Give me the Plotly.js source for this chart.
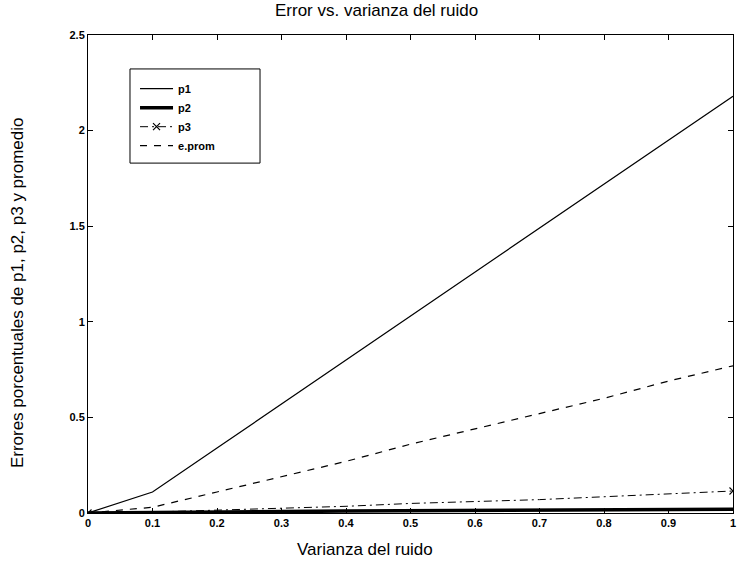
<!DOCTYPE html>
<html>
<head>
<meta charset="utf-8">
<script src="https://cdn.plot.ly/plotly-3.0.1.min.js"></script>
<style>html,body{margin:0;padding:0;background:#fff;}</style>
</head>
<body>
<div id="chart" style="width:737px;height:570px;"></div>
<script>
// Data
var varianza = [0, 0.1, 0.2, 0.3, 0.4, 0.5, 0.6, 0.7, 0.8, 0.9, 1.0];
var p1 = [0, 0.11, 0.34, 0.57, 0.80, 1.03, 1.26, 1.49, 1.72, 1.95, 2.18];
var p2 = [0, 0.004, 0.006, 0.008, 0.010, 0.012, 0.013, 0.015, 0.016, 0.018, 0.02];
var p3 = [0, 0.005, 0.015, 0.025, 0.035, 0.05, 0.06, 0.07, 0.085, 0.10, 0.115];
var eprom = [0, 0.03, 0.11, 0.19, 0.27, 0.36, 0.44, 0.52, 0.60, 0.69, 0.77];
var seriesNames = ['p1', 'p2', 'p3', 'e.prom'];
var xTicks = [0, 0.1, 0.2, 0.3, 0.4, 0.5, 0.6, 0.7, 0.8, 0.9, 1];
var yTicks = [0, 0.5, 1, 1.5, 2, 2.5];
var chartTitle = 'Error vs. varianza del ruido';
var xTitle = 'Varianza del ruido';
var yTitle = 'Errores porcentuales de p1, p2, p3 y promedio';

var FONT = 'Liberation Sans, Arial, Helvetica, sans-serif';

// p3 markers only at the ends of the curve
var p3MarkerColors = p3.map(function (v, i) {
  return (i === 0 || i === p3.length - 1) ? 'black' : 'rgba(0,0,0,0)';
});

var traces = [
  {x: varianza, y: p1, name: seriesNames[0], mode: 'lines',
   line: {color: 'black', width: 1.2}},
  {x: varianza, y: p2, name: seriesNames[1], mode: 'lines',
   line: {color: 'black', width: 3.5}},
  {x: varianza, y: p3, name: seriesNames[2], mode: 'lines+markers',
   line: {color: 'black', width: 1, dash: '8px,4px,2px,4px'},
   marker: {symbol: 'x-thin-open', size: 7, color: p3MarkerColors,
            line: {width: 1.2, color: p3MarkerColors}}},
  {x: varianza, y: eprom, name: seriesNames[3], mode: 'lines',
   line: {color: 'black', width: 1.2, dash: '7px,7px'}}
];

var axisCommon = {
  showgrid: false, zeroline: false, showline: true, linecolor: 'black',
  linewidth: 1, mirror: 'ticks', ticks: 'inside', ticklen: 5,
  tickcolor: 'black', tickfont: {family: FONT, size: 11, color: 'black', weight: 'bold'}
};

var layout = {
  width: 737, height: 570,
  margin: {l: 88, r: 4, t: 35, b: 57},
  paper_bgcolor: 'white', plot_bgcolor: 'white',
  showlegend: true,
  xaxis: Object.assign({}, axisCommon, {
    range: [0, 1], tickmode: 'array', tickvals: xTicks,
    ticktext: xTicks.map(String)
  }),
  yaxis: Object.assign({}, axisCommon, {
    range: [0, 2.5], tickmode: 'array', tickvals: yTicks,
    ticktext: yTicks.map(String)
  }),
  legend: {
    x: 0.0729, y: 0.918, xanchor: 'left', yanchor: 'top',
    bgcolor: 'rgba(0,0,0,0)', borderwidth: 0, itemwidth: 33,
    font: {family: FONT, size: 11, color: 'black', weight: 'bold'},
    tracegroupgap: 0
  },
  shapes: [
    {type: 'rect', xref: 'paper', yref: 'paper',
     x0: 0.0651, x1: 0.2667, y0: 0.732, y1: 0.929,
     line: {color: 'black', width: 1}, fillcolor: 'white', layer: 'above'}
  ],
  annotations: [
    {text: chartTitle, xref: 'paper', yref: 'paper', x: 0.447, y: 1,
     yshift: 25, showarrow: false, xanchor: 'center', yanchor: 'middle',
     font: {family: FONT, size: 17, color: 'black'}},
    {text: xTitle, xref: 'paper', yref: 'paper', x: 0.43, y: 0,
     yshift: -36, showarrow: false, xanchor: 'center', yanchor: 'middle',
     font: {family: FONT, size: 17, color: 'black'}},
    {text: yTitle, xref: 'paper', yref: 'paper', x: 0, y: 0.46,
     xshift: -71, showarrow: false, textangle: -90, xanchor: 'center', yanchor: 'middle',
     font: {family: FONT, size: 17, color: 'black'}}
  ]
};

Plotly.newPlot('chart', traces, layout, {staticPlot: true, displayModeBar: false});
</script>
</body>
</html>
